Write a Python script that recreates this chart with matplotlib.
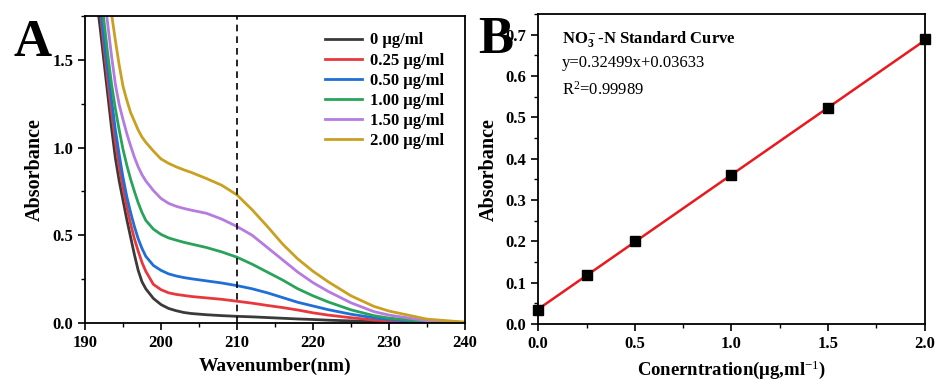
import matplotlib
matplotlib.use("Agg")
import matplotlib.pyplot as plt
from matplotlib.ticker import MultipleLocator

plt.rcParams['font.family'] = ['Liberation Serif', 'DejaVu Serif']
plt.rcParams['mathtext.fontset'] = 'custom'
plt.rcParams['mathtext.rm'] = 'Liberation Serif'
plt.rcParams['mathtext.bf'] = 'Liberation Serif:bold'
plt.rcParams['mathtext.it'] = 'Liberation Serif:italic'

# ---------- Data: panel A (UV spectra) ----------
wavelength = [191.5, 192, 192.5, 193, 193.5, 194, 194.5, 195, 195.5, 196, 196.5, 197, 197.5,
              198, 199, 200, 201, 202, 203, 204, 206, 208, 210, 212, 214, 216, 218, 220,
              222, 225, 228, 230, 235, 240]
abs_0 = [1.86, 1.68, 1.49, 1.30, 1.11, 0.94, 0.81, 0.70, 0.59, 0.49, 0.39, 0.30, 0.235,
         0.195, 0.14, 0.105, 0.083, 0.07, 0.06, 0.054, 0.047, 0.042, 0.038, 0.035, 0.031,
         0.027, 0.023, 0.02, 0.016, 0.012, 0.008, 0.006, 0.003, 0.001]
abs_025 = [1.96, 1.78, 1.57, 1.38, 1.2, 1.03, 0.89, 0.77, 0.66, 0.565, 0.48, 0.41, 0.345,
           0.295, 0.22, 0.19, 0.172, 0.163, 0.157, 0.151, 0.143, 0.135, 0.124, 0.113, 0.1,
           0.088, 0.074, 0.058, 0.045, 0.03, 0.017, 0.012, 0.004, 0.001]
abs_050 = [2.0, 1.82, 1.62, 1.44, 1.27, 1.1, 0.96, 0.83, 0.72, 0.63, 0.55, 0.48, 0.425,
           0.38, 0.328, 0.3, 0.28, 0.268, 0.259, 0.252, 0.24, 0.228, 0.213, 0.195, 0.172,
           0.145, 0.118, 0.097, 0.076, 0.05, 0.03, 0.02, 0.006, 0.002]
abs_100 = [2.08, 1.9, 1.72, 1.53, 1.36, 1.22, 1.1, 0.99, 0.9, 0.82, 0.75, 0.685, 0.63,
           0.585, 0.535, 0.505, 0.485, 0.472, 0.46, 0.45, 0.43, 0.405, 0.375, 0.335, 0.29,
           0.245, 0.195, 0.155, 0.12, 0.075, 0.042, 0.028, 0.008, 0.002]
abs_150 = [2.22, 2.05, 1.88, 1.7, 1.52, 1.36, 1.245, 1.16, 1.08, 1.01, 0.945, 0.89, 0.845,
           0.81, 0.755, 0.71, 0.682, 0.665, 0.653, 0.643, 0.625, 0.592, 0.55, 0.5, 0.43,
           0.36, 0.29, 0.23, 0.18, 0.115, 0.065, 0.045, 0.013, 0.003]
abs_200 = [2.5, 2.3, 2.1, 1.92, 1.76, 1.61, 1.47, 1.35, 1.27, 1.2, 1.15, 1.1, 1.06,
           1.03, 0.98, 0.935, 0.91, 0.89, 0.873, 0.858, 0.823, 0.785, 0.73, 0.645, 0.55,
           0.45, 0.365, 0.295, 0.235, 0.155, 0.095, 0.068, 0.022, 0.005]
series_labels = ["0 \u03bcg/ml", "0.25 \u03bcg/ml", "0.50 \u03bcg/ml",
                 "1.00 \u03bcg/ml", "1.50 \u03bcg/ml", "2.00 \u03bcg/ml"]
series_colors = ["#3a3a3a", "#e8383d", "#1f6fd6", "#2aa35a", "#b57be0", "#c9a021"]
marker_wavelength = 210

# ---------- Data: panel B (standard curve) ----------
conc = [0.0, 0.25, 0.5, 1.0, 1.5, 2.0]
absorb = [0.033, 0.120, 0.202, 0.360, 0.522, 0.690]
slope = 0.32499
intercept = 0.03633
fit_x = [0.0, 2.0]

fig = plt.figure(figsize=(9.36, 3.8), dpi=100)

# ---------- Panel A ----------
axA = fig.add_axes([0.0908, 0.15, 0.406, 0.808])
all_series = [abs_0, abs_025, abs_050, abs_100, abs_150, abs_200]
for vals, lab, col in zip(all_series, series_labels, series_colors):
    axA.plot(wavelength, vals, color=col, lw=2, label=lab)
axA.axvline(marker_wavelength, color='black', ls=(0, (4, 3)), lw=1.2)
axA.set_xlim(190, 240)
axA.set_ylim(0, 1.75)
axA.xaxis.set_major_locator(MultipleLocator(10))
axA.xaxis.set_minor_locator(MultipleLocator(5))
axA.yaxis.set_major_locator(MultipleLocator(0.5))
axA.yaxis.set_minor_locator(MultipleLocator(0.25))
axA.set_xlabel("Wavenumber(nm)", fontsize=14, fontweight='bold', labelpad=5)
axA.set_ylabel("Absorbance", fontsize=14.5, fontweight='bold', labelpad=5)
leg = axA.legend(loc='upper right', frameon=False, prop=dict(weight='bold', size=12),
                 handlelength=2.2, handletextpad=0.5, labelspacing=0.25,
                 bbox_to_anchor=(0.985, 0.995))
fig.text(0.014, 0.95, "A", fontsize=38, fontweight='bold', va='top')

# ---------- Panel B ----------
axB = fig.add_axes([0.575, 0.147, 0.413, 0.816])
axB.plot(fit_x, [slope * x + intercept for x in fit_x], color='#e8191f', lw=1.8, zorder=2)
axB.plot(conc, absorb, 's', color='black', ms=7, zorder=3, clip_on=False)
axB.set_xlim(0, 2.0)
axB.set_ylim(0, 0.75)
axB.xaxis.set_major_locator(MultipleLocator(0.5))
axB.xaxis.set_minor_locator(MultipleLocator(0.25))
axB.yaxis.set_major_locator(MultipleLocator(0.1))
axB.yaxis.set_minor_locator(MultipleLocator(0.05))
axB.set_xlabel("Conerntration(\u03bcg,ml$^{-1}$)", fontsize=13.5, fontweight='bold', labelpad=5)
axB.set_ylabel("Absorbance", fontsize=14.5, fontweight='bold', labelpad=5)
axB.text(0.062, 0.919, r"NO$\mathbf{_3^-}$-N Standard Curve", transform=axB.transAxes,
         fontsize=12, fontweight='bold', va='center')
axB.text(0.062, 0.842, "y=0.32499x+0.03633", transform=axB.transAxes, fontsize=12,
         va='center')
axB.text(0.062, 0.755, "R$^2$=0.99989", transform=axB.transAxes, fontsize=12, va='center')
fig.text(0.511, 0.958, "B", fontsize=38, fontweight='bold', va='top')

for ax in (axA, axB):
    ax.tick_params(which='major', direction='out', length=5, width=1.2)
    ax.tick_params(which='minor', direction='out', length=3, width=1)
    for s in ax.spines.values():
        s.set_linewidth(1.3)
    for lab in ax.get_xticklabels() + ax.get_yticklabels():
        lab.set_fontweight('bold')
        lab.set_fontsize(12)

fig.savefig("out.png", dpi=100)
